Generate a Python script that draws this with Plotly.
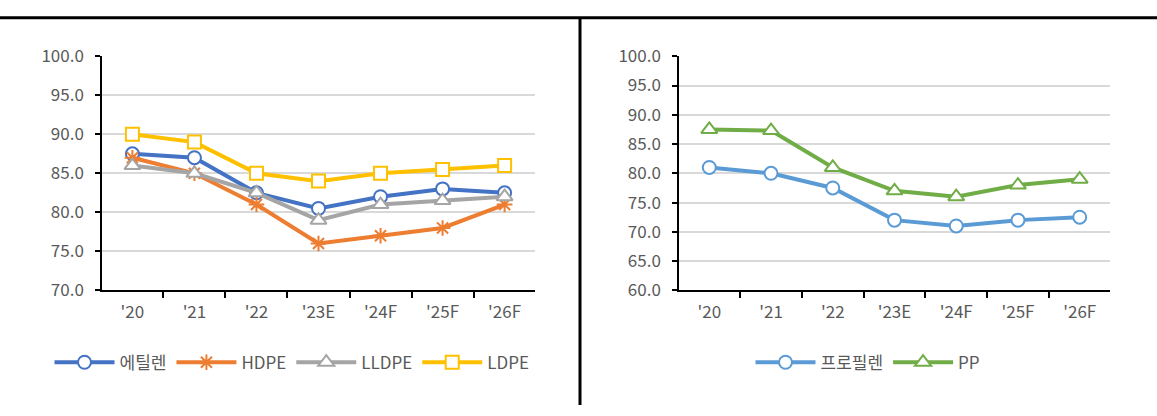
import plotly.graph_objects as go

categories = ["'20", "'21", "'22", "'23E", "'24F", "'25F", "'26F"]

ethylene = [87.5, 87.0, 82.5, 80.5, 82.0, 83.0, 82.5]
hdpe = [87.0, 85.0, 81.0, 76.0, 77.0, 78.0, 81.0]
lldpe = [86.0, 85.0, 82.5, 79.0, 81.0, 81.5, 82.0]
ldpe = [90.0, 89.0, 85.0, 84.0, 85.0, 85.5, 86.0]

propylene = [81.0, 80.0, 77.5, 72.0, 71.0, 72.0, 72.5]
pp = [87.5, 87.3, 81.0, 77.0, 76.0, 78.0, 79.0]

W, H = 1157, 416
FONT = "Noto Sans CJK KR, Liberation Sans, sans-serif"
TXT = "#595959"

fig = go.Figure()

def add(name, y, color, symbol, xa, ya, legend, msize=13):
    fig.add_trace(go.Scatter(
        x=categories, y=y, name=name, mode="lines+markers",
        line=dict(color=color, width=4),
        marker=dict(symbol=symbol, size=msize, color="white",
                    line=dict(color=color, width=2)),
        xaxis=xa, yaxis=ya, legend=legend,
    ))

add("에틸렌", ethylene, "#4472C4", "circle", "x", "y", "legend")
fig.add_trace(go.Scatter(
    x=categories, y=hdpe, name="HDPE", mode="lines+markers",
    line=dict(color="#ED7D31", width=4),
    marker=dict(symbol="asterisk-open", size=13, color="#ED7D31",
                line=dict(color="#ED7D31", width=2)),
    xaxis="x", yaxis="y", legend="legend"))
add("LLDPE", lldpe, "#A5A5A5", "triangle-up", "x", "y", "legend", 14)
add("LDPE", ldpe, "#FFC000", "square", "x", "y", "legend", 13)

add("프로필렌", propylene, "#5B9BD5", "circle", "x2", "y2", "legend2")
add("PP", pp, "#70AD47", "triangle-up", "x2", "y2", "legend2", 14)

ydom = [1 - 294 / H, 1 - 45 / H]

xcommon = dict(type="category", showline=True, linecolor="black", linewidth=1.5,
               ticks="outside", tickson="boundaries", ticklen=6, tickcolor="black",
               tickwidth=1.5, showgrid=False, tickfont=dict(family=FONT, size=17, color=TXT),
               fixedrange=True, ticklabelstandoff=6)
ycommon = dict(showline=True, linecolor="black", linewidth=1.5, ticks="outside",
               ticklen=5, tickcolor="black", tickwidth=1.5, showgrid=True,
               gridcolor="#D9D9D9", gridwidth=1.5, dtick=5, tickformat=".1f",
               tickfont=dict(family=FONT, size=17, color=TXT), zeroline=False,
               ticklabelstandoff=8, fixedrange=True)

fig.update_layout(
    width=W, height=H,
    margin=dict(l=0, r=0, t=0, b=0),
    paper_bgcolor="white", plot_bgcolor="white",
    font=dict(family=FONT, color=TXT),
    xaxis=dict(domain=[102 / W, 535 / W], anchor="y", **xcommon),
    yaxis=dict(domain=ydom, range=[70, 100], anchor="x", **ycommon),
    xaxis2=dict(domain=[679 / W, 1110 / W], anchor="y2", **xcommon),
    yaxis2=dict(domain=ydom, range=[60, 100], anchor="x2", **ycommon),
    legend=dict(orientation="h", x=292 / W, xanchor="center", y=1 - 371 / H, yanchor="middle",
                font=dict(family=FONT, size=17, color=TXT), itemwidth=60,
                bgcolor="rgba(0,0,0,0)"),
    legend2=dict(orientation="h", x=868 / W, xanchor="center", y=1 - 371 / H, yanchor="middle",
                 font=dict(family=FONT, size=17, color=TXT), itemwidth=60,
                 bgcolor="rgba(0,0,0,0)"),
    showlegend=True,
    shapes=[
        dict(type="line", xref="paper", yref="paper", x0=0, x1=1, y0=1 - 4 / H, y1=1 - 4 / H,
             line=dict(color="black", width=3)),
        dict(type="line", xref="paper", yref="paper", x0=580 / W, x1=580 / W, y0=0, y1=1 - 4 / H,
             line=dict(color="black", width=3)),
    ],
)

fig.write_html(
    "out.html",
    config={"displayModeBar": False, "responsive": False},
    post_script=(
        "document.body.style.margin='0';document.body.style.overflow='hidden';"
        "var d=document.querySelector('.plotly-graph-div');"
        "d.style.position='absolute';d.style.left='0px';d.style.top='0px';"
    ),
)
